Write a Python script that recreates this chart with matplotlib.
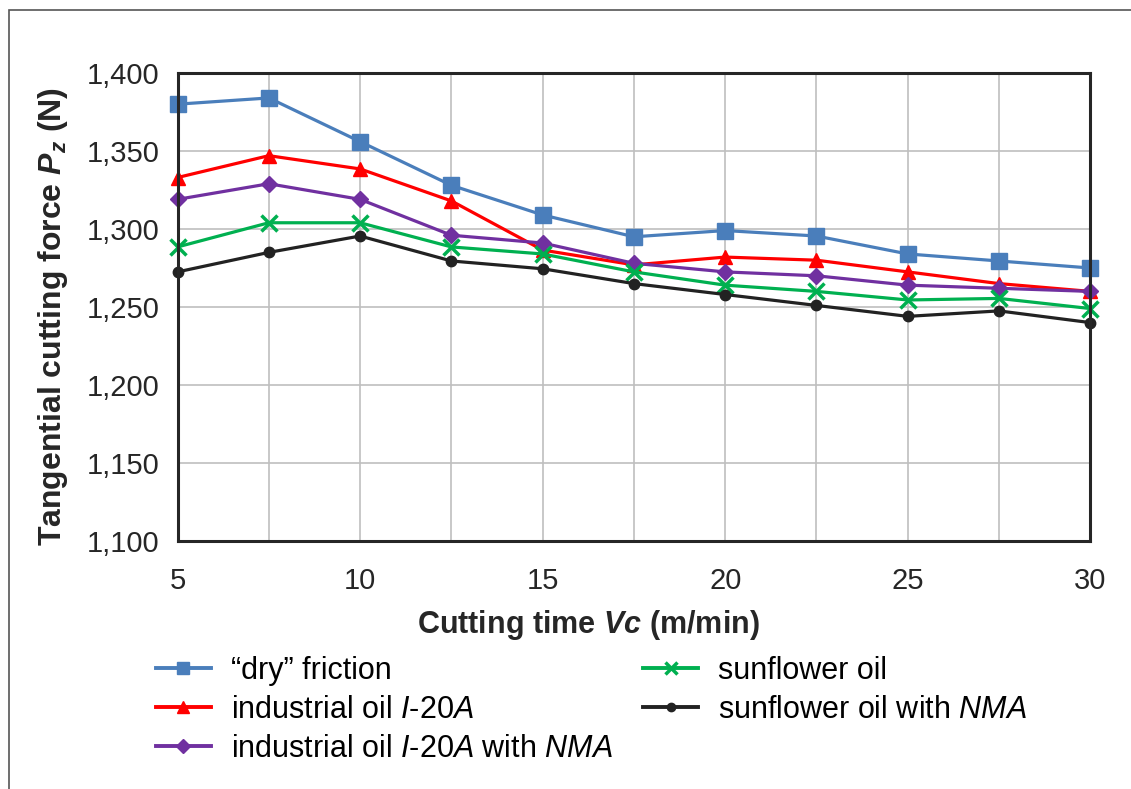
import matplotlib.pyplot as plt
from matplotlib.patches import Rectangle
from matplotlib.ticker import FuncFormatter, MultipleLocator

plt.rcParams['font.family'] = ['Liberation Sans', 'DejaVu Sans']
plt.rcParams['mathtext.fontset'] = 'custom'
plt.rcParams['mathtext.rm'] = 'Liberation Sans'
plt.rcParams['mathtext.it'] = 'Liberation Sans:italic'
plt.rcParams['mathtext.bf'] = 'Liberation Sans:bold'
plt.rcParams['mathtext.bfit'] = 'Liberation Sans:italic:bold'

# cutting speed values
vc = [5, 7.5, 10, 12.5, 15, 17.5, 20, 22.5, 25, 27.5, 30]

dry = [1380, 1384, 1356, 1328, 1309, 1295, 1299, 1295.5, 1284, 1279.5, 1275]
oil_i20a = [1333, 1347, 1338.5, 1318, 1286.5, 1277, 1282, 1280, 1272.5, 1265, 1260]
oil_i20a_nma = [1319, 1329, 1319, 1296, 1291, 1278, 1272.5, 1270, 1264, 1262, 1260]
sunflower = [1288.5, 1304, 1304, 1288.5, 1284, 1272.5, 1264, 1260, 1254.5, 1255.5, 1249]
sunflower_nma = [1272.5, 1285, 1295.5, 1279.5, 1274.5, 1265, 1258, 1251, 1244, 1247.5, 1240]

labels = ['\u201cdry\u201d friction',
          r'industrial oil $\mathit{I}$-$\mathit{20A}$',
          r'industrial oil $\mathit{I}$-$\mathit{20A}$ with $\mathit{NMA}$',
          'sunflower oil',
          r'sunflower oil with $\mathit{NMA}$']

fig = plt.figure(figsize=(11.31, 7.89), dpi=100)
ax = fig.add_axes([0.157, 0.3143, 0.807, 0.5932])

kw = dict(lw=2.3, zorder=3, clip_on=False)
ax.plot(vc, dry, color='#4A7EBB', marker='s', ms=11, label=labels[0], **kw)
ax.plot(vc, oil_i20a, color='#FF0000', marker='^', ms=10, label=labels[1], **kw)
ax.plot(vc, oil_i20a_nma, color='#7030A0', marker='D', ms=8.5, label=labels[2], **kw)
ax.plot(vc, sunflower, color='#00B050', marker='x', ms=11, mew=2.5, label=labels[3], **kw)
ax.plot(vc, sunflower_nma, color='#222222', marker='o', ms=7.5, label=labels[4], **kw)

ax.set_xlim(5, 30)
ax.set_ylim(1100, 1400)
ax.xaxis.set_major_locator(MultipleLocator(5))
ax.xaxis.set_minor_locator(MultipleLocator(2.5))
ax.yaxis.set_major_locator(MultipleLocator(50))
ax.yaxis.set_major_formatter(FuncFormatter(lambda v, p: '{:,.0f}'.format(v)))
ax.grid(True, which='both', color='#BFBFBF', lw=1.2)
ax.set_axisbelow(True)
ax.tick_params(axis='both', which='both', length=0, labelsize=21, colors='#262626')
ax.tick_params(axis='x', pad=19)
ax.tick_params(axis='y', pad=13)
for s in ax.spines.values():
    s.set_linewidth(2.2)
    s.set_color('#262626')
    s.set_zorder(4)

ax.set_xlabel(r'Cutting time $\mathbfit{Vc}$ (m/min)', fontsize=22, fontweight='bold',
              color='#262626', labelpad=9)
ax.set_ylabel(r'Tangential cutting force $\mathbfit{P_z}$ (N)', fontsize=23, fontweight='bold',
              color='#262626', labelpad=12)
ax.xaxis.label.set_x(0.45)
ax.yaxis.label.set_y(0.479)

leg = fig.legend(loc='upper left', bbox_to_anchor=(0.127, 0.1845), ncol=2, frameon=False,
                 fontsize=22, handlelength=1.8, handletextpad=0.65, columnspacing=1.0,
                 labelspacing=0.3, markerscale=0.8, borderaxespad=0)
for h in leg.legend_handles:
    h.set_linewidth(2.8)

fig.patches.append(Rectangle((0.008, -0.05), 1.1, 1.037, transform=fig.transFigure,
                             fill=False, edgecolor='#555555', lw=1.2))

fig.savefig('out.png', dpi=100)
